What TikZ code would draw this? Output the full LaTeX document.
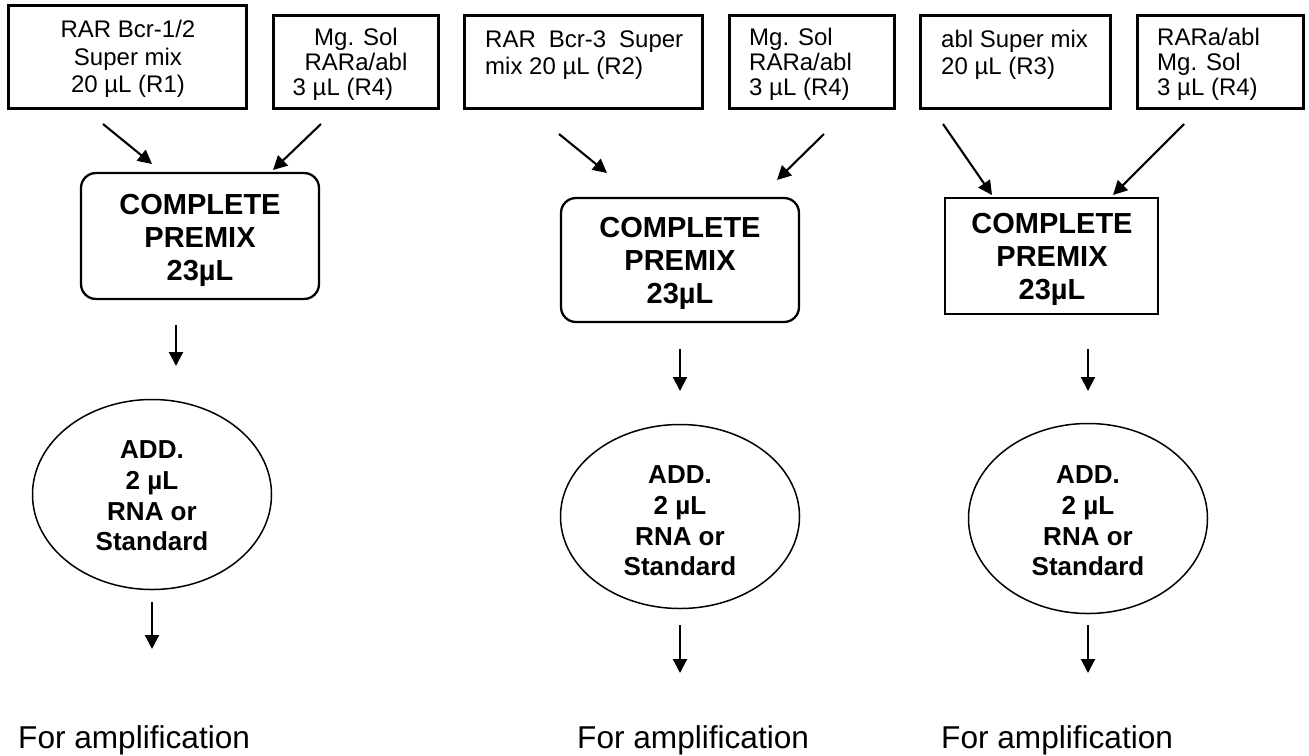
\documentclass[tikz,border=0pt]{standalone}
\usepackage{fontspec}
\setmainfont{Liberation Sans}
\usetikzlibrary{arrows.meta,shapes.geometric}
\tikzset{
  srcbox/.style={draw, rectangle, line width=2.6pt, inner sep=0pt},
  mixbox/.style={draw, rectangle, line width=2.3pt, inner sep=0pt},
  addell/.style={draw, ellipse, line width=1.5pt, inner sep=0pt},
  flow/.style={line width=2.1pt, -{Triangle[length=14pt,width=14pt]}},
  srctext/.style={inner sep=0pt, font=\fontsize{24}{27.5}\selectfont},
  mgtext/.style={inner sep=0pt, font=\fontsize{24}{25}\selectfont},
  mixtext/.style={inner sep=0pt, align=center, font=\bfseries\fontsize{29}{33}\selectfont},
  addtext/.style={inner sep=0pt, align=center, font=\bfseries\fontsize{26}{30.7}\selectfont},
  outtext/.style={inner sep=0pt, anchor=base west, font=\fontsize{31.6}{36}\selectfont}
}
\begin{document}
\begin{tikzpicture}[x=1pt,y=-1pt]
\useasboundingbox (0,0) rectangle (1309,755);

% ---------- column 1 ----------
\node[srcbox, minimum width=238pt, minimum height=103pt] (r1) at (127.5,57) {};
\node[srctext, align=center] (r1t) at (128,59) {RAR Bcr-1/2\\Super mix\\20 µL (R1)};
\node[srcbox, minimum width=165pt, minimum height=93pt] (m1) at (356,62) {};
\node[mgtext, align=center] (m1t) at (356,64) {Mg. Sol\\RARa/abl\\3 µL (R4)\hspace*{26pt}};
\node[mixbox, rounded corners=15pt, minimum width=238pt, minimum height=126pt] (p1) at (200,236) {};
\node[mixtext] (p1t) at (200,240) {COMPLETE\\PREMIX\\23µL};
\node[addell, minimum width=239pt, minimum height=190pt] (e1) at (152,494.5) {};
\node[addtext] (e1t) at (152,496) {ADD.\\2 µL\\RNA or\\Standard};
\node[outtext] (o1) at (18,748) {For amplification};

\coordinate (a1s) at (103,124); \coordinate (a1e) at (152,164);
\coordinate (b1s) at (321,124); \coordinate (b1e) at (273,170);
\coordinate (c1s) at (176,325); \coordinate (c1e) at (176,366);
\coordinate (d1s) at (152,602); \coordinate (d1e) at (152,649);
\draw[flow] (a1s) -- (a1e);
\draw[flow] (b1s) -- (b1e);
\draw[flow] (c1s) -- (c1e);
\draw[flow] (d1s) -- (d1e);

% ---------- column 2 ----------
\node[srcbox, minimum width=238pt, minimum height=93pt] (r2) at (583.5,62) {};
\node[srctext, align=left, anchor=west] (r2t) at (485,55) {\makebox[198pt][s]{RAR Bcr-3 Super}\\mix 20 µL (R2)};
\node[srcbox, minimum width=165pt, minimum height=93pt] (m2) at (812,62) {};
\node[mgtext, align=left, anchor=west] (m2t) at (749,64) {Mg. Sol\\RARa/abl\\3 µL (R4)};
\node[mixbox, rounded corners=15pt, minimum width=238pt, minimum height=124pt] (p2) at (680,260) {};
\node[mixtext] (p2t) at (680,263) {COMPLETE\\PREMIX\\23µL};
\node[addell, minimum width=239pt, minimum height=184pt] (e2) at (680,516.5) {};
\node[addtext] (e2t) at (680,521) {ADD.\\2 µL\\RNA or\\Standard};
\node[outtext] (o2) at (577,748) {For amplification};

\coordinate (a2s) at (559,134); \coordinate (a2e) at (607,173);
\coordinate (b2s) at (824,134); \coordinate (b2e) at (777,180);
\coordinate (c2s) at (680,349); \coordinate (c2e) at (680,391);
\coordinate (d2s) at (680,625); \coordinate (d2e) at (680,673);
\draw[flow] (a2s) -- (a2e);
\draw[flow] (b2s) -- (b2e);
\draw[flow] (c2s) -- (c2e);
\draw[flow] (d2s) -- (d2e);

% ---------- column 3 ----------
\node[srcbox, minimum width=190pt, minimum height=93pt] (r3) at (1015.5,62) {};
\node[srctext, align=left, anchor=west] (r3t) at (941,55) {abl Super mix\\20 µL (R3)};
\node[srcbox, minimum width=166pt, minimum height=93pt] (m3) at (1220.5,62) {};
\node[mgtext, align=left, anchor=west] (m3t) at (1157,64) {RARa/abl\\Mg. Sol\\3 µL (R4)};
\node[mixbox, minimum width=213pt, minimum height=116pt] (p3) at (1051.5,256) {};
\node[mixtext] (p3t) at (1052,259.5) {COMPLETE\\PREMIX\\23µL};
\node[addell, minimum width=239pt, minimum height=190pt] (e3) at (1088,518.5) {};
\node[addtext] (e3t) at (1088,521) {ADD.\\2 µL\\RNA or\\Standard};
\node[outtext] (o3) at (941,748) {For amplification};

\coordinate (a3s) at (943,124); \coordinate (a3e) at (992,195);
\coordinate (b3s) at (1184,124); \coordinate (b3e) at (1113,195);
\coordinate (c3s) at (1088,349); \coordinate (c3e) at (1088,391);
\coordinate (d3s) at (1088,625); \coordinate (d3e) at (1088,673);
\draw[flow] (a3s) -- (a3e);
\draw[flow] (b3s) -- (b3e);
\draw[flow] (c3s) -- (c3e);
\draw[flow] (d3s) -- (d3e);
\end{tikzpicture}
\end{document}
